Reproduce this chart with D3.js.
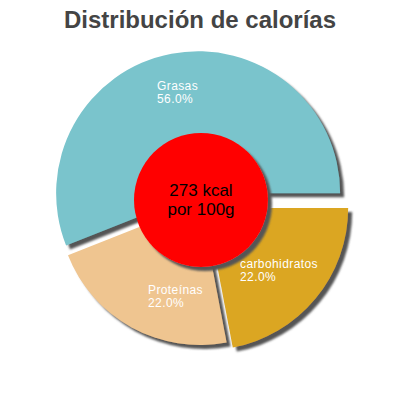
<!DOCTYPE html>
<html>
<head>
<meta charset="utf-8">
<script src="https://cdn.jsdelivr.net/npm/d3@7"></script>
<style>body{margin:0;background:#fff}</style>
</head>
<body>
<svg id="chart" width="400" height="400"></svg>
<script>
'use strict';

var labels = ["Grasas", "carbohidratos", "Proteínas"];
var values = [56.0, 22.0, 22.0];
var colors = ["#7ac4cc", "#dba623", "#efc590"];
var offsets = [10, 8, 0];
var labelPos = [[157, 90], [240, 268], [148, 294]];

var svg = d3.select("#chart");

svg.append("text")
  .attr("x", 200).attr("y", 28)
  .attr("text-anchor", "middle")
  .attr("font-family", "Liberation Sans, Arial, sans-serif")
  .attr("font-weight", "bold")
  .attr("font-size", 24)
  .attr("fill", "#444")
  .text("Distribución de calorías");

var defs = svg.append("defs");
var f = defs.append("filter").attr("id", "shadow").attr("x", "-20%").attr("y", "-20%").attr("width", "140%").attr("height", "140%");
f.append("feDropShadow").attr("dx", 4).attr("dy", 4).attr("stdDeviation", 0.8)
  .attr("flood-color", "#555").attr("flood-opacity", 1);

var start = -(values[0] / 100) * 2 * Math.PI + Math.PI / 2;
var pie = d3.pie().sort(null).startAngle(start).endAngle(start + 2 * Math.PI);
var arc = d3.arc().innerRadius(0).outerRadius(142);

var g = svg.append("g").attr("transform", "translate(200,203)");

g.selectAll("path")
  .data(pie(values))
  .join("path")
  .attr("d", arc)
  .attr("fill", function (d, i) { return colors[i]; })
  .attr("filter", "url(#shadow)")
  .attr("transform", function (d, i) {
    var a = (d.startAngle + d.endAngle) / 2;
    return "translate(" + offsets[i] * Math.sin(a) + "," + (-offsets[i] * Math.cos(a)) + ")";
  });

svg.append("circle").attr("cx", 201).attr("cy", 200).attr("r", 67).attr("fill", "#ff0000").attr("filter", "url(#shadow)");

var center = svg.append("text")
  .attr("text-anchor", "middle")
  .attr("font-family", "Liberation Sans, Arial, sans-serif")
  .attr("font-size", 17)
  .attr("fill", "#000");
center.append("tspan").attr("x", 201).attr("y", 196).text("273 kcal");
center.append("tspan").attr("x", 201).attr("y", 215).text("por 100g");

labelPos.forEach(function (p, i) {
  var t = svg.append("text")
    .attr("font-family", "Liberation Sans, Arial, sans-serif")
    .attr("font-size", 12)
    .attr("letter-spacing", 0.4)
    .attr("fill", "#fff");
  t.append("tspan").attr("x", p[0]).attr("y", p[1]).text(labels[i]);
  t.append("tspan").attr("x", p[0]).attr("y", p[1] + 13).text(values[i].toFixed(1) + "%");
});
</script>
</body>
</html>
